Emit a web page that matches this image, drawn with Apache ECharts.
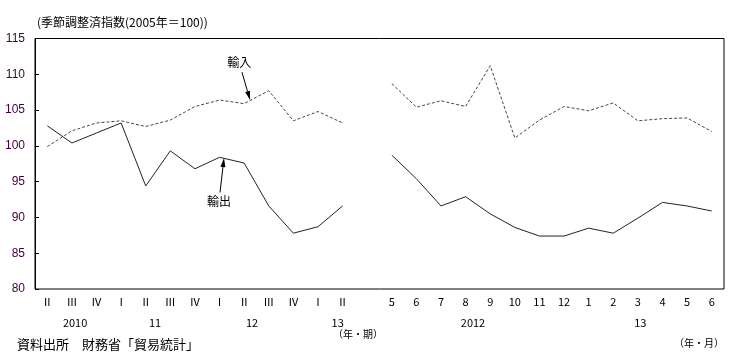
<!DOCTYPE html>
<html><head><meta charset="utf-8">
<script src="https://cdn.jsdelivr.net/npm/echarts@6/dist/echarts.min.js"></script>
<style>html,body{margin:0;padding:0;background:#fff}#c{width:737px;height:359px}</style>
</head><body><div id="c"></div>
<script>
// quarterly part (2010 Q2 – 2013 Q2), then a gap, then monthly part (2012/5 – 2013/6)
const quarterLabels = ['Ⅱ','Ⅲ','Ⅳ','Ⅰ','Ⅱ','Ⅲ','Ⅳ','Ⅰ','Ⅱ','Ⅲ','Ⅳ','Ⅰ','Ⅱ'];
const monthLabels = ['5','6','7','8','9','10','11','12','1','2','3','4','5','6'];
const exportQ = [102.8,100.4,101.8,103.2,94.4,99.3,96.8,98.4,97.6,91.6,87.8,88.7,91.6];
const importQ = [99.9,102.1,103.2,103.5,102.7,103.6,105.5,106.4,105.9,107.7,103.5,104.8,103.2];
const exportM = [98.7,95.4,91.6,92.9,90.5,88.6,87.4,87.4,88.5,87.8,89.9,92.1,91.6,90.9];
const importM = [108.7,105.4,106.3,105.5,111.2,101.1,103.6,105.5,104.9,106.0,103.5,103.8,103.9,102.0];
const yearLabels = ['2010','11','12','13','2012','13'];
const yearAt = [1.13,4.38,8.32,11.8,17.3,24.1]; // category index positions
const yTicks = {min:80,max:115,interval:5};

const tickLabels = quarterLabels.concat([''], monthLabels);
const cats = tickLabels.map((t,i)=>'c'+i);
const exportData = exportQ.concat([null], exportM);
const importData = importQ.concat([null], importM);

const chart = echarts.init(document.getElementById('c'));
const jp = '"Noto Sans CJK JP", sans-serif';
chart.setOption({
  animation:false,
  grid:{left:35,right:13,top:38.5,bottom:70,show:true,borderColor:'#000',borderWidth:1,backgroundColor:'transparent'},
  xAxis:{type:'category',data:cats,boundaryGap:true,
    axisLine:{show:false},axisTick:{show:false},
    axisLabel:{interval:0,margin:7,fontSize:11,color:'#000',fontFamily:jp,
      formatter:(v,i)=>tickLabels[i]}},
  yAxis:{type:'value',min:yTicks.min,max:yTicks.max,interval:yTicks.interval,
    axisLine:{show:true,lineStyle:{color:'#000'}},
    axisTick:{show:true,inside:true,length:4,lineStyle:{color:'#000'}},
    splitLine:{show:false},
    axisLabel:{margin:10,fontSize:12,color:'#400040',fontFamily:'Arial, "Liberation Sans", sans-serif'}},
  series:[
    {name:'輸出',type:'line',data:exportData,symbol:'none',connectNulls:false,
     lineStyle:{color:'#222',width:1}},
    {name:'輸入',type:'line',data:importData,symbol:'none',connectNulls:false,
     lineStyle:{color:'#444',width:1,type:[3,2]}}
  ]
});

function px(idx,val){
  const i0=Math.floor(idx), f=idx-i0;
  const a=chart.convertToPixel({gridIndex:0},[i0,val]);
  const b=chart.convertToPixel({gridIndex:0},[i0+1,val]);
  return [a[0]+(b[0]-a[0])*f,a[1]];
}
function arrow(from,to){
  const p=px(from[0],from[1]), q=px(to[0],to[1]);
  const dx=q[0]-p[0], dy=q[1]-p[1], L=Math.hypot(dx,dy), ux=dx/L, uy=dy/L;
  const hl=9, hw=2.5;
  const bx=q[0]-ux*hl, by=q[1]-uy*hl;
  return [
    {type:'line',shape:{x1:p[0],y1:p[1],x2:bx,y2:by},style:{stroke:'#000',lineWidth:1}},
    {type:'polygon',shape:{points:[[q[0],q[1]],[bx-uy*hw,by+ux*hw],[bx+uy*hw,by-ux*hw]]},style:{fill:'#000'}}
  ];
}
const g=[];
const tImp=px(7.8,111.7), tExp=px(6.98,92.25);
g.push({type:'text',x:tImp[0],y:tImp[1],style:{text:'輸入',fontSize:12,fontFamily:jp,fill:'#000',align:'center',verticalAlign:'middle'}});
g.push({type:'text',x:tExp[0],y:tExp[1],style:{text:'輸出',fontSize:12,fontFamily:jp,fill:'#000',align:'center',verticalAlign:'middle'}});
g.push(...arrow([7.91,110.3],[8.24,106.4]));
g.push(...arrow([7.02,93.5],[7.18,98.3]));
yearLabels.forEach((t,k)=>{
  const p=px(yearAt[k],80);
  g.push({type:'text',x:p[0],y:323,style:{text:t,fontSize:11,fontFamily:jp,fill:'#000',align:'center',verticalAlign:'middle'}});
});
g.push({type:'text',x:358,y:334,style:{text:'（年・期）',fontSize:10,fontFamily:jp,fill:'#000',align:'center',verticalAlign:'middle'}});
g.push({type:'text',x:699,y:343,style:{text:'（年・月）',fontSize:10,fontFamily:jp,fill:'#000',align:'center',verticalAlign:'middle'}});
g.push({type:'text',x:37,y:22,style:{text:'(季節調整済指数(2005年＝100))',fontSize:12,fontFamily:jp,fill:'#000',align:'left',verticalAlign:'middle'}});
g.push({type:'text',x:17,y:344,style:{text:'資料出所　財務省「貿易統計」',fontSize:13,fontFamily:jp,fill:'#000',align:'left',verticalAlign:'middle'}});
chart.setOption({graphic:g});
</script></body></html>
